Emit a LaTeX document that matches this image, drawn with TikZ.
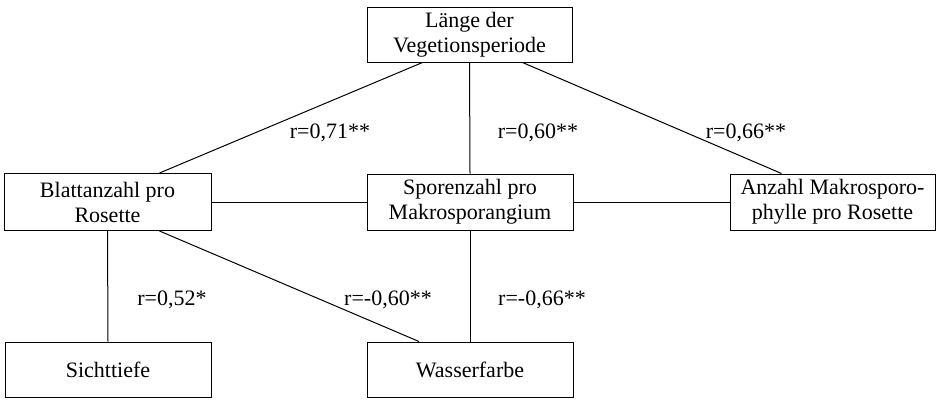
\documentclass[tikz,border=0pt]{standalone}
\usepackage{fontspec}
\setmainfont{Liberation Serif}
\begin{document}
\begin{tikzpicture}[x=1pt,y=-1pt,
  every node/.style={font=\fontsize{22}{25}\selectfont},
  box/.style={draw,line width=1pt,inner sep=0pt,align=center,anchor=center},
  lab/.style={inner sep=0pt,anchor=center},
  conn/.style={line width=1pt}]
\useasboundingbox (0,0) rectangle (944,399);
\node[box,minimum width=205pt,minimum height=55pt] (top) at (469.5,34.5) {Länge der\\Vegetionsperiode};
\node[box,minimum width=207pt,minimum height=57pt] (blatt) at (107.5,202) {Blattanzahl pro\\Rosette};
\node[box,minimum width=206pt,minimum height=56pt] (spor) at (470,202) {Sporenzahl pro\\Makrosporangium};
\node[box,minimum width=205pt,minimum height=56pt] (anz) at (832.5,202) {Anzahl Makrosporo-\\phylle pro Rosette};
\node[box,minimum width=206pt,minimum height=55pt] (sicht) at (108,369.5) {Sichttiefe};
\node[box,minimum width=206pt,minimum height=55pt] (wasser) at (470,369.5) {Wasserfarbe};
\draw[conn] ([xshift=-47pt]top.south) -- ([xshift=52pt]blatt.north);
\draw[conn] (top.south) -- (spor.north);
\draw[conn] ([xshift=53pt]top.south) -- ([xshift=-51pt]anz.north);
\draw[conn] (blatt.east) -- (spor.west);
\draw[conn] (spor.east) -- (anz.west);
\draw[conn] (blatt.south) -- (sicht.north);
\draw[conn] ([xshift=52pt]blatt.south) -- ([xshift=-51pt]wasser.north);
\draw[conn] (spor.south) -- (wasser.north);
\node[lab] (l71) at (330,133) {r=0,71**};
\node[lab] (l60) at (538,133) {r=0,60**};
\node[lab] (l66) at (746,133) {r=0,66**};
\node[lab] (l52) at (172,300) {r=0,52*};
\node[lab] (lm60) at (388,300) {r=-0,60**};
\node[lab] (lm66) at (542,300) {r=-0,66**};
\end{tikzpicture}
\end{document}
